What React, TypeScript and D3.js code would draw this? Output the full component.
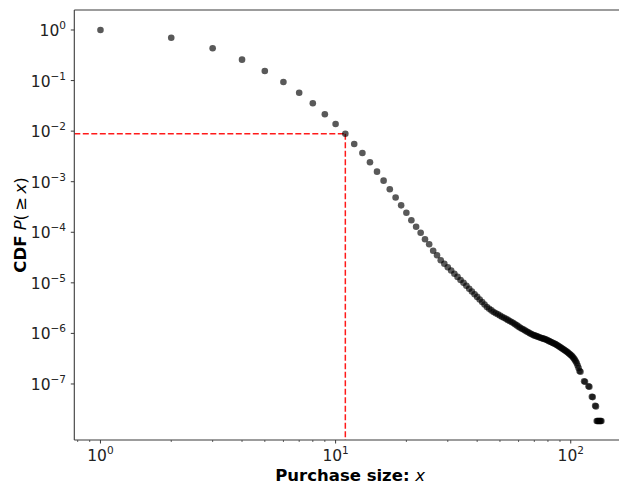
import * as d3 from 'd3';

// purchase sizes (x) and CDF P(>=x)
const purchaseSize = [
  1, 2, 3, 4, 5, 6, 7, 8, 9, 10, 11, 12, 13, 14, 15, 16, 17, 18, 19, 20,
  21, 22, 23, 24, 25, 26, 27, 28, 29, 30, 31, 32, 33, 34, 35, 36, 37, 38, 39, 40,
  41, 42, 43, 44, 45, 46, 47, 48, 49, 50, 51, 52, 53, 54, 55, 56, 57, 58, 59, 60,
  61, 62, 63, 64, 65, 66, 67, 68, 69, 70, 71, 72, 73, 74, 75, 76, 77, 78, 79, 80,
  81, 82, 83, 84, 85, 86, 87, 88, 89, 90, 91, 92, 93, 94, 95, 96, 97, 98, 99, 100,
  101, 102, 103, 104, 105, 106, 107, 108, 109, 110, 114, 115, 119, 120, 123, 124, 127, 128,
  129, 130, 131, 132, 133, 134, 135,
];

const cdf = [
  1.0, 0.704, 0.435, 0.259, 0.155, 0.0937, 0.0575, 0.0355, 0.0215, 0.0138,
  0.00889, 0.00557, 0.0037, 0.00242, 0.00158, 0.00105, 0.000708, 0.000487, 0.000341, 0.000244,
  1.73e-4, 1.29e-4, 9.8e-5, 7.27e-5, 5.78e-5, 4.32e-5, 3.51e-5, 2.79e-5, 2.38e-5, 2.03e-5,
  1.75e-5, 1.51e-5, 1.31e-5, 1.14e-5, 1.0e-5, 8.73e-6, 7.66e-6, 6.75e-6, 5.94e-6, 5.27e-6,
  4.68e-6, 4.17e-6, 3.72e-6, 3.33e-6, 3.08e-6, 2.85e-6, 2.65e-6, 2.51e-6, 2.38e-6, 2.25e-6,
  2.14e-6, 2.04e-6, 1.94e-6, 1.85e-6, 1.76e-6, 1.68e-6, 1.6e-6, 1.52e-6, 1.44e-6, 1.36e-6,
  1.29e-6, 1.24e-6, 1.19e-6, 1.14e-6, 1.09e-6, 1.05e-6, 1.01e-6, 9.73e-7, 9.37e-7, 9.14e-7,
  8.93e-7, 8.73e-7, 8.51e-7, 8.32e-7, 8.13e-7, 7.96e-7, 7.78e-7, 7.62e-7, 7.45e-7, 7.23e-7,
  7.03e-7, 6.84e-7, 6.65e-7, 6.47e-7, 6.3e-7, 6.14e-7, 5.97e-7, 5.75e-7, 5.56e-7, 5.37e-7,
  5.19e-7, 5.02e-7, 4.85e-7, 4.7e-7, 4.55e-7, 4.4e-7, 4.23e-7, 4.06e-7, 3.9e-7, 3.75e-7,
  3.61e-7, 3.4e-7, 3.21e-7, 3.03e-7, 2.8e-7, 2.59e-7, 2.32e-7, 2.07e-7,
  1.8e-7, 1.75e-7, 1.13e-7, 1.11e-7, 9.0e-8, 8.8e-8, 5.6e-8, 5.5e-8, 3.7e-8, 3.6e-8,
  1.85e-8, 1.85e-8, 1.85e-8, 1.85e-8, 1.85e-8, 1.85e-8, 1.85e-8,
];

const xTickExps = [0, 1, 2];
const yTickExps = [0, -1, -2, -3, -4, -5, -6, -7];
const markerSize = 11;

const W = 619;
const H = 485;
const plot = { left: 74.3, right: 626, top: 10, bottom: 440 };
const font = 'DejaVu Sans';
const spine = '#3a3a3a';

const sup = (e: number) => (e < 0 ? '\u2212' + Math.abs(e) : String(e));

export default function App() {
  const x = d3
    .scaleLog()
    .domain([0.774, 171.8])
    .range([plot.left, plot.right]);
  const y = d3
    .scaleLog()
    .domain([Math.pow(10, -8.108), Math.pow(10, 0.3955)])
    .range([plot.bottom, plot.top]);

  const points = purchaseSize.map((v, i) => ({ x: v, y: cdf[i] }));
  const markerY = cdf[purchaseSize.indexOf(markerSize)];

  const xMajors = xTickExps.map((e) => Math.pow(10, e));
  const xMinors = x
    .ticks()
    .filter((t) => !xMajors.some((m) => Math.abs(m - t) < 1e-9));

  return (
    <svg
      width={W}
      height={H}
      style={{ position: 'absolute', left: 0, top: 0, background: '#fff' }}
      fontFamily={font}
    >
      <defs>
        <clipPath id="plotArea">
          <rect x={plot.left} y={plot.top} width={plot.right - plot.left} height={plot.bottom - plot.top} />
        </clipPath>
      </defs>

      {/* marker lines */}
      <g clipPath="url(#plotArea)">
        <line
          x1={plot.left}
          x2={x(markerSize)}
          y1={y(markerY)}
          y2={y(markerY)}
          stroke="#ff1a1a"
          strokeWidth={1.5}
          strokeDasharray="6,2.5"
        />
        <line
          x1={x(markerSize)}
          x2={x(markerSize)}
          y1={y(markerY)}
          y2={plot.bottom}
          stroke="#ff1a1a"
          strokeWidth={1.5}
          strokeDasharray="6,2.5"
        />
        {points.map((p, i) => (
          <circle key={i} cx={x(p.x)} cy={y(p.y)} r={3.3} fill="#000" fillOpacity={0.65} />
        ))}
      </g>

      {/* spines */}
      <line x1={plot.left} x2={plot.left} y1={plot.top} y2={plot.bottom} stroke={spine} strokeWidth={1.1} />
      <line x1={plot.left} x2={plot.right} y1={plot.bottom} y2={plot.bottom} stroke={spine} strokeWidth={1.1} />
      <line x1={plot.left} x2={plot.right} y1={plot.top} y2={plot.top} stroke={spine} strokeWidth={1.1} />

      {/* y axis */}
      {yTickExps.map((e) => {
        const ty = y(Math.pow(10, e));
        return (
          <g key={e}>
            <line x1={plot.left - 3.5} x2={plot.left} y1={ty} y2={ty} stroke={spine} />
            <text x={66} y={ty + 6} textAnchor="end" fontSize={15.5} fill="#222">
              <tspan>10</tspan>
              <tspan dy={-7} fontSize={10.5}>{sup(e)}</tspan>
            </text>
          </g>
        );
      })}

      {/* x axis */}
      {xMinors.map((t, i) => (
        <line key={i} x1={x(t)} x2={x(t)} y1={plot.bottom} y2={plot.bottom + 2} stroke={spine} strokeWidth={0.8} />
      ))}
      {xTickExps.map((e) => {
        const tx = x(Math.pow(10, e));
        return (
          <g key={e}>
            <line x1={tx} x2={tx} y1={plot.bottom} y2={plot.bottom + 3.5} stroke={spine} />
            <text x={tx} y={461} textAnchor="middle" fontSize={15.5} fill="#222">
              <tspan>10</tspan>
              <tspan dy={-7} fontSize={10.5}>{sup(e)}</tspan>
            </text>
          </g>
        );
      })}

      {/* axis labels */}
      <text x={(plot.left + plot.right) / 2} y={481} textAnchor="middle" fontSize={16.5} fill="#000">
        <tspan fontWeight="bold">Purchase size: </tspan>
        <tspan fontStyle="italic">x</tspan>
      </text>
      <text
        transform={`translate(25.5,${(plot.top + plot.bottom) / 2}) rotate(-90)`}
        textAnchor="middle"
        fontSize={16.5}
        fill="#000"
      >
        <tspan fontWeight="bold">CDF</tspan>
        <tspan>{'  '}</tspan>
        <tspan fontStyle="italic">P</tspan>
        <tspan>{'(\u2009\u2265\u2009'}</tspan>
        <tspan fontStyle="italic">x</tspan>
        <tspan>)</tspan>
      </text>
    </svg>
  );
}
